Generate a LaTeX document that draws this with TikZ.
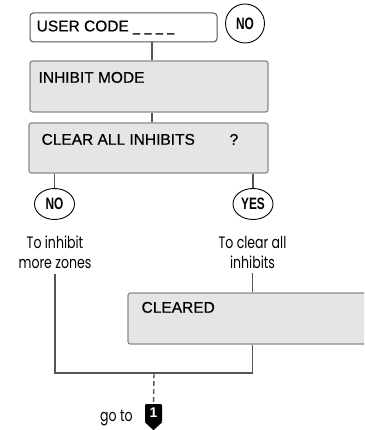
\documentclass[tikz,border=0pt]{standalone}
\usepackage{fontspec}
\setmainfont{Liberation Sans}
\newfontfamily\panelfont{Liberation Sans}[FakeBold=0.6]
\newfontfamily\geofont{Poppins}[FakeStretch=0.76]
\usetikzlibrary{shapes.geometric}
\definecolor{boxgray}{HTML}{E5E5E5}
\definecolor{edgegray}{HTML}{8A8A8A}
\definecolor{linegray}{HTML}{555555}

\begin{document}
\begin{tikzpicture}[x=1pt,y=-1pt,
  panel/.style={draw=edgegray,line width=1.2pt,fill=boxgray,rounded corners=2.5pt,inner sep=0pt},
  entry/.style={draw=linegray,line width=1pt,fill=white,rounded corners=3.5pt,inner sep=0pt},
  paneltext/.style={font=\panelfont\fontsize{15.5}{18}\selectfont,inner sep=0pt,anchor=west},
  answer/.style={draw=black,line width=0.9pt,inner sep=0pt,font=\fontsize{16.5}{18}\bfseries\selectfont},
  hint/.style={font=\geofont\fontsize{16.5}{20}\selectfont,align=center,inner sep=0pt},
  conn/.style={draw=linegray,line width=1.4pt}]
\clip (0,0) rectangle (364,430);

% Code entry and its NO key
\node[entry,minimum width=187pt,minimum height=29pt] (usercode) at (123.5,27.5) {};
\node[paneltext] (usercodetext) at ([xshift=7pt]usercode.west) {USER CODE \scalebox{0.8}[1]{\_}\hspace{4.5pt}\scalebox{0.8}[1]{\_}\hspace{4.5pt}\scalebox{0.8}[1]{\_}\hspace{4.5pt}\scalebox{0.8}[1]{\_}};
\node[answer,circle,minimum size=39pt] (nokey) at (245,23.5) {\scalebox{0.72}[1]{NO}};

% Display panels
\node[panel,minimum width=238pt,minimum height=51pt] (inhibit) at (149,86.5) {};
\node[paneltext] (inhibittext) at ([xshift=9pt,yshift=-17pt]inhibit.north west) {INHIBIT MODE};
\node[panel,minimum width=239pt,minimum height=50pt] (clearall) at (148.5,148) {};
\node[paneltext] (clearalltext) at ([xshift=13pt,yshift=-17pt]clearall.north west) {CLEAR ALL INHIBITS};
\node[paneltext] (query) at ([xshift=201pt,yshift=-17pt]clearall.north west) {?};

% Answers
\node[answer,ellipse,minimum width=40pt,minimum height=31pt] (no) at (54.5,204) {\scalebox{0.72}[1]{NO}};
\node[answer,ellipse,minimum width=40pt,minimum height=31pt] (yes) at (253,204) {\scalebox{0.72}[1]{YES}};
\node[hint] (notext) at (55,252) {To inhibit\\more zones};
\node[hint] (yestext) at (252.5,252) {To clear all\\inhibits};

% Cleared panel
\node[panel,minimum width=250pt,minimum height=51pt] (cleared) at (253,318.5) {};
\node[paneltext] (clearedtext) at ([xshift=14pt,yshift=-15pt]cleared.north west) {CLEARED};

% Go to marker
\node[fill=black,text=white,rounded corners=1pt,minimum width=17pt,minimum height=18pt,inner sep=0pt,
  font=\fontsize{14}{14}\bfseries\selectfont] (goto1) at (153.5,413) {1};
\fill (goto1.south west) -- (goto1.south east) -- ([yshift=-8pt]goto1.south) -- cycle;
\node[hint,anchor=east] (gototext) at ([xshift=-12pt,yshift=-5pt]goto1.west) {go to};
\coordinate (join) at (154,373);

% Connectors
\draw[conn] (usercode.south -| 152,0) -- (inhibit.north -| 152,0);
\draw[conn] (inhibit.south -| 152,0) -- (clearall.north -| 152,0);
\draw[conn] (clearall.south -| no.north) -- (no.north);
\draw[conn] (clearall.south -| yes.north) -- (yes.north);
\draw[conn] ([yshift=-5pt]yestext.south) -- (yestext.south |- cleared.north);
\draw[conn] ([yshift=-5pt]notext.south) |- (join) -| (cleared.south -| yestext.south);
\draw[conn,dashed,dash pattern=on 5pt off 3pt] (join) -- (goto1.north);
\end{tikzpicture}
\end{document}
